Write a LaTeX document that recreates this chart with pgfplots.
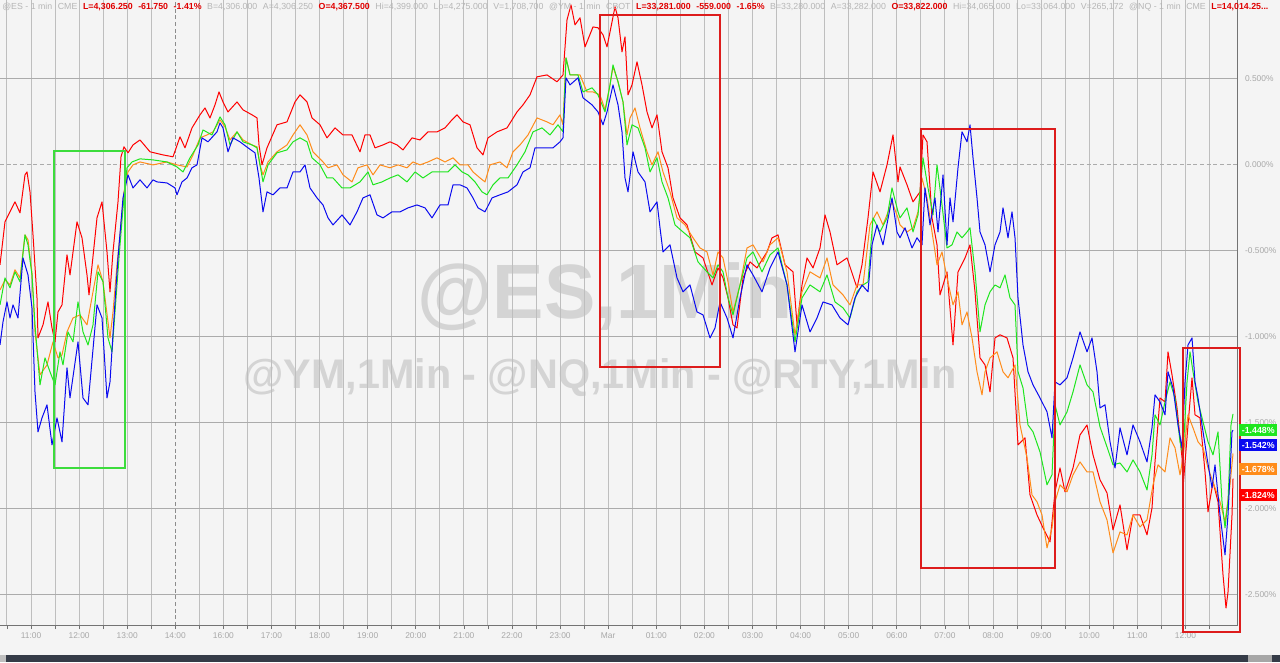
\documentclass[border=0pt]{standalone}
\usepackage{fontspec}
\setmainfont{Liberation Sans}
\usepackage{pgfplots}
\pgfplotsset{compat=1.18}
\definecolor{bg}{HTML}{F4F4F4}
\definecolor{gridv}{HTML}{BEBEBE}
\definecolor{gridh}{HTML}{ABABAB}
\definecolor{lblgray}{HTML}{A8A8A8}
\definecolor{hdrgray}{HTML}{B6B6B6}
\definecolor{hdrred}{HTML}{E00000}
\definecolor{wm}{HTML}{D4D4D4}
\definecolor{sred}{HTML}{FF0000}
\definecolor{sorange}{HTML}{FF8C1A}
\definecolor{sgreen}{HTML}{1EE61E}
\definecolor{sblue}{HTML}{0A0AF0}
\definecolor{boxgreen}{HTML}{3CDC3C}
\definecolor{boxred}{HTML}{DD1C1C}
\definecolor{bar}{HTML}{353B47}
\newcommand\hg[1]{\textcolor{hdrgray}{#1}\hspace{4.2pt}}
\newcommand\hr[1]{\textcolor{hdrred}{\bfseries #1}\hspace{4.2pt}}
\begin{document}
\begin{tikzpicture}[x=0.75pt,y=0.75pt]
\useasboundingbox (0,0) rectangle (1280,662);
\fill[bg] (0,0) rectangle (1280,662);
\fill[bar] (0,0) rectangle (1280,7);
\fill[black!25] (0,0) rectangle (6,7);
\fill[black!35] (1248,0) rectangle (1272,7);
\node[text=wm,font=\fontsize{57.8}{60}\selectfont\bfseries] at (605,365) {@ES,1Min};
\node[text=wm,font=\fontsize{31}{33}\selectfont\bfseries] at (600,284) {@YM,1Min - @NQ,1Min - @RTY,1Min};
\begin{axis}[
 at={(0,21)}, anchor=south west,
 scale only axis, width=927.75pt, height=471.75pt,
 xmin=0, xmax=1237, ymin=-2.6802, ymax=0.9767,
 axis line style={draw=none},
 clip=false,
 xtick={31,79.1,127.2,223.4,271.5,319.6,367.7,415.8,463.9,512,560.1,608.2,656.3,704.4,752.5,800.6,848.7,896.8,944.9,993,1041.1,1089.2,1137.3,1185.4},
 xticklabels={11:00,12:00,13:00,16:00,17:00,18:00,19:00,20:00,21:00,22:00,23:00,Mar,01:00,02:00,03:00,04:00,05:00,06:00,07:00,08:00,09:00,10:00,11:00,12:00},
 minor xtick={6.95,55.05,103.15,151.25,199.35,247.45,295.55,343.65,391.75,439.85,487.95,536.05,584.15,632.25,680.35,728.45,776.55,824.65,872.75,920.85,968.95,1017.05,1065.15,1113.25,1161.35,1209.45},
 extra x ticks={175.3}, extra x tick labels={14:00},
 extra x tick style={major grid style={draw=black!45, dash pattern=on 3pt off 2pt, line width=0.7pt}},
 ytick={-2.5,-2,-1.5,-1,-0.5,0.5},
 yticklabels={-2.500\%,-2.000\%,-1.500\%,-1.000\%,-0.500\%,0.500\%},
 extra y ticks={0}, extra y tick labels={0.000\%},
 extra y tick style={major grid style={draw=black!50, dash pattern=on 3pt off 2pt, line width=0.7pt}},
 xmajorgrids, xminorgrids, ymajorgrids,
 major grid style={draw=gridv, line width=0.75pt},
 minor grid style={draw=gridv, line width=0.75pt},
 y grid style={draw=gridh, line width=0.75pt},
 xtick pos=bottom, ytick pos=right,
 tick align=outside,
 major tick length=2.5pt, minor tick length=2.5pt,
 xtick style={draw=black!55, line width=0.6pt},
 ytick style={draw=none},
 xticklabel style={font=\fontsize{6.3}{7}\selectfont, text=lblgray, yshift=1pt},
 yticklabel style={font=\fontsize{6.3}{7}\selectfont, text=lblgray, xshift=0pt},
 every axis plot/.append style={line width=0.75pt, line join=round, mark=none},
]
\addplot[sred] coordinates {
(0,-0.581)(5,-0.331)(10,-0.273)(15,-0.215)(20,-0.279)(25,-0.058)(27,-0.041)(30,-0.157)(33,-0.407)(37,-0.773)(38,-1.006)(43,-0.930)(48,-0.797)(52,-0.948)(55,-1.029)(58,-0.855)(62,-0.814)(67,-0.523)(70,-0.640)(77,-0.331)(82,-0.424)(87,-0.640)(89,-0.756)(97,-0.308)(102,-0.215)(107,-0.506)(110,-0.738)(113,-0.506)(118,-0.215)(121,0.047)(124,0.105)(128,0.070)(133,0.116)(140,0.145)(150,0.076)(163,0.058)(173,0.047)(180,0.163)(185,0.099)(192,0.215)(200,0.291)(205,0.331)(210,0.273)(215,0.349)(219,0.424)(223,0.366)(228,0.308)(237,0.366)(243,0.320)(252,0.291)(257,0.273)(259,0.116)(262,0.000)(267,0.099)(277,0.233)(287,0.250)(295,0.366)(300,0.407)(307,0.366)(312,0.273)(320,0.233)(327,0.157)(335,0.215)(343,0.174)(352,0.174)(360,0.076)(365,0.174)(370,0.174)(375,0.099)(383,0.116)(390,0.134)(397,0.116)(403,0.087)(412,0.157)(420,0.145)(428,0.192)(437,0.192)(445,0.215)(452,0.262)(457,0.291)(463,0.250)(470,0.233)(477,0.099)(483,0.058)(488,0.157)(497,0.192)(507,0.215)(517,0.308)(523,0.349)(530,0.407)(537,0.512)(547,0.523)(557,0.483)(563,0.523)(567,0.843)(571,0.930)(575,0.814)(580,0.855)(585,0.686)(593,0.802)(598,0.797)(603,0.756)(607,0.686)(612,0.831)(615,0.919)(618,0.855)(622,0.657)(625,0.744)(628,0.407)(632,0.465)(637,0.599)(642,0.465)(647,0.308)(652,0.215)(657,0.291)(662,0.076)(668,-0.017)(673,-0.192)(680,-0.308)(687,-0.349)(695,-0.506)(703,-0.541)(712,-0.698)(718,-0.599)(723,-0.657)(728,-0.773)(733,-0.930)(737,-0.948)(743,-0.657)(750,-0.564)(757,-0.599)(767,-0.506)(772,-0.424)(778,-0.407)(785,-0.581)(793,-0.622)(797,-0.930)(802,-0.698)(807,-0.541)(813,-0.599)(820,-0.483)(825,-0.291)(830,-0.390)(837,-0.581)(847,-0.541)(857,-0.715)(862,-0.581)(868,-0.308)(873,-0.041)(880,-0.157)(887,0.000)(893,0.174)(898,-0.099)(900,-0.012)(907,-0.116)(913,-0.215)(920,-0.157)(923,0.174)(927,0.134)(932,-0.308)(937,-0.465)(940,-0.756)(947,-0.622)(953,-1.047)(958,-0.622)(965,-0.541)(970,-0.465)(975,-0.738)(980,-1.122)(985,-1.163)(990,-1.320)(995,-1.006)(1000,-0.988)(1007,-1.006)(1013,-1.122)(1018,-1.628)(1025,-1.587)(1030,-1.919)(1037,-2.035)(1043,-2.110)(1050,-2.192)(1055,-1.901)(1060,-1.762)(1065,-1.901)(1073,-1.762)(1080,-1.570)(1087,-1.512)(1093,-1.686)(1100,-1.831)(1107,-1.907)(1113,-2.122)(1120,-1.977)(1127,-2.238)(1133,-2.035)(1140,-2.035)(1147,-2.151)(1152,-1.994)(1155,-1.727)(1160,-1.355)(1165,-1.378)(1168,-1.087)(1172,-1.221)(1177,-1.413)(1182,-1.703)(1183,-1.878)(1188,-1.512)(1192,-1.238)(1195,-1.453)(1200,-1.471)(1205,-1.785)(1208,-2.017)(1213,-1.843)(1218,-1.959)(1223,-2.384)(1226,-2.576)(1228,-2.483)(1232,-2.035)(1233,-1.824)
};
\addplot[sorange] coordinates {
(0,-0.727)(5,-0.669)(10,-0.698)(15,-0.610)(20,-0.657)(25,-0.407)(28,-0.436)(32,-0.628)(35,-0.971)(40,-1.221)(47,-1.163)(53,-1.029)(58,-1.122)(62,-1.105)(67,-0.971)(73,-0.890)(80,-0.872)(87,-0.930)(93,-0.738)(98,-0.581)(103,-0.680)(110,-1.006)(113,-0.855)(117,-0.581)(120,-0.407)(124,-0.157)(128,-0.041)(133,0.000)(140,0.017)(153,0.000)(167,0.017)(177,0.000)(187,-0.012)(193,0.058)(200,0.157)(207,0.174)(213,0.192)(220,0.262)(225,0.221)(230,0.145)(237,0.192)(243,0.145)(252,0.116)(257,0.105)(260,0.000)(263,-0.058)(268,0.017)(277,0.076)(287,0.116)(293,0.174)(300,0.233)(307,0.174)(313,0.076)(323,0.017)(328,-0.017)(337,0.000)(343,-0.058)(352,-0.099)(358,-0.017)(367,0.000)(373,-0.058)(380,0.000)(390,-0.017)(398,0.000)(407,-0.017)(413,0.017)(420,0.000)(428,0.017)(437,0.041)(445,0.017)(453,0.041)(460,0.000)(468,0.000)(473,-0.041)(480,-0.076)(485,-0.099)(490,0.000)(500,0.017)(507,-0.017)(513,0.076)(520,0.116)(528,0.174)(537,0.273)(547,0.250)(553,0.233)(560,0.291)(563,0.233)(566,0.622)(570,0.523)(580,0.523)(587,0.424)(593,0.424)(600,0.407)(605,0.320)(610,0.465)(613,0.570)(618,0.483)(623,0.366)(627,0.174)(630,0.273)(635,0.331)(640,0.215)(647,0.076)(652,0.000)(658,0.076)(663,-0.041)(670,-0.157)(677,-0.308)(685,-0.349)(693,-0.424)(700,-0.483)(707,-0.506)(713,-0.640)(718,-0.506)(723,-0.541)(728,-0.680)(733,-0.855)(740,-0.698)(747,-0.483)(753,-0.465)(763,-0.564)(770,-0.465)(778,-0.424)(787,-0.622)(795,-0.988)(802,-0.738)(810,-0.622)(820,-0.657)(827,-0.541)(833,-0.698)(843,-0.756)(850,-0.814)(857,-0.698)(863,-0.698)(870,-0.349)(877,-0.273)(883,-0.349)(892,-0.215)(898,-0.308)(900,-0.349)(907,-0.390)(913,-0.366)(918,-0.273)(922,-0.076)(927,-0.192)(932,-0.390)(937,-0.581)(942,-0.506)(947,-0.657)(953,-0.814)(958,-0.738)(962,-0.930)(967,-0.855)(972,-1.006)(977,-1.203)(982,-1.337)(985,-1.203)(990,-1.122)(997,-1.087)(1003,-1.203)(1008,-1.238)(1015,-1.163)(1020,-1.512)(1027,-1.703)(1032,-1.919)(1037,-1.959)(1042,-2.035)(1047,-2.227)(1052,-2.110)(1055,-1.959)(1060,-1.860)(1067,-1.901)(1073,-1.802)(1080,-1.727)(1087,-1.785)(1093,-1.785)(1100,-1.959)(1107,-2.064)(1113,-2.256)(1120,-2.134)(1127,-2.151)(1133,-2.035)(1140,-2.105)(1147,-2.064)(1153,-1.860)(1158,-1.744)(1165,-1.785)(1170,-1.587)(1175,-1.645)(1180,-1.802)(1183,-1.703)(1188,-1.453)(1193,-1.529)(1198,-1.610)(1203,-1.645)(1208,-1.762)(1215,-1.878)(1220,-1.959)(1225,-2.076)(1230,-1.860)(1233,-1.678)
};
\addplot[sgreen] coordinates {
(0,-0.814)(5,-0.657)(10,-0.715)(15,-0.622)(20,-0.680)(25,-0.407)(28,-0.465)(32,-0.640)(35,-0.930)(40,-1.279)(45,-1.122)(50,-1.203)(55,-1.279)(60,-1.087)(63,-1.163)(68,-0.971)(73,-1.029)(78,-0.797)(83,-0.971)(88,-1.047)(93,-0.930)(98,-0.622)(103,-0.680)(108,-1.006)(112,-1.087)(115,-0.855)(119,-0.541)(123,-0.250)(127,-0.017)(132,0.017)(140,0.035)(153,0.029)(167,0.017)(177,-0.012)(183,-0.041)(190,0.041)(198,0.116)(203,0.203)(212,0.174)(220,0.279)(225,0.233)(230,0.116)(237,0.192)(243,0.134)(252,0.116)(257,0.099)(260,0.000)(263,-0.099)(268,0.000)(277,0.070)(287,0.087)(293,0.134)(300,0.157)(307,0.134)(312,0.041)(320,0.000)(327,-0.076)(333,-0.076)(342,-0.134)(350,-0.134)(360,-0.099)(368,-0.041)(373,-0.116)(382,-0.099)(390,-0.076)(398,-0.058)(407,-0.099)(415,-0.041)(423,-0.076)(432,-0.041)(440,-0.041)(448,-0.041)(455,0.000)(462,-0.041)(468,-0.058)(475,-0.099)(482,-0.157)(487,-0.174)(493,-0.116)(500,-0.076)(508,-0.076)(517,0.000)(525,0.076)(533,0.192)(542,0.215)(550,0.174)(558,0.233)(563,0.192)(566,0.622)(570,0.523)(578,0.523)(583,0.424)(592,0.448)(598,0.407)(605,0.308)(610,0.465)(613,0.581)(618,0.483)(623,0.366)(627,0.116)(632,0.233)(638,0.215)(645,0.099)(650,-0.041)(657,0.041)(662,-0.099)(668,-0.192)(675,-0.349)(683,-0.390)(690,-0.424)(698,-0.564)(707,-0.622)(713,-0.657)(718,-0.581)(723,-0.622)(728,-0.773)(733,-0.872)(740,-0.698)(747,-0.541)(753,-0.506)(762,-0.622)(770,-0.523)(778,-0.483)(787,-0.698)(795,-1.029)(802,-0.773)(810,-0.698)(820,-0.738)(827,-0.640)(835,-0.797)(843,-0.831)(850,-0.890)(857,-0.738)(863,-0.698)(868,-0.680)(873,-0.308)(880,-0.390)(887,-0.308)(892,-0.134)(898,-0.273)(900,-0.308)(907,-0.250)(913,-0.390)(918,-0.291)(923,0.041)(928,-0.134)(933,-0.291)(937,0.000)(942,-0.233)(947,-0.483)(952,-0.465)(957,-0.390)(962,-0.424)(967,-0.390)(970,-0.366)(975,-0.622)(980,-0.971)(985,-0.814)(990,-0.738)(995,-0.698)(1000,-0.715)(1005,-0.640)(1010,-0.773)(1015,-0.814)(1018,-1.203)(1023,-1.297)(1028,-1.512)(1033,-1.552)(1040,-1.669)(1047,-1.860)(1052,-1.802)(1055,-1.395)(1060,-1.512)(1067,-1.436)(1073,-1.320)(1080,-1.163)(1087,-1.279)(1093,-1.320)(1100,-1.523)(1107,-1.640)(1113,-1.744)(1120,-1.733)(1127,-1.785)(1133,-1.715)(1140,-1.785)(1147,-1.890)(1152,-1.686)(1155,-1.453)(1160,-1.512)(1165,-1.378)(1170,-1.262)(1175,-1.355)(1180,-1.610)(1183,-1.686)(1187,-1.262)(1190,-1.087)(1193,-1.203)(1198,-1.378)(1203,-1.494)(1208,-1.610)(1213,-1.686)(1218,-1.552)(1222,-1.959)(1225,-2.110)(1228,-1.959)(1231,-1.512)(1233,-1.448)
};
\addplot[sblue] coordinates {
(0,-1.047)(3,-0.913)(7,-0.797)(10,-0.890)(13,-0.814)(18,-0.890)(23,-0.541)(28,-0.640)(32,-0.831)(35,-1.320)(38,-1.552)(42,-1.471)(47,-1.395)(52,-1.628)(57,-1.471)(62,-1.610)(67,-1.180)(70,-1.355)(78,-1.029)(83,-1.355)(88,-1.395)(97,-0.814)(102,-0.890)(107,-1.355)(110,-1.262)(115,-0.797)(118,-0.541)(123,-0.192)(128,-0.058)(133,-0.134)(140,-0.087)(147,-0.134)(153,-0.087)(157,-0.099)(167,-0.105)(175,-0.134)(177,-0.174)(182,-0.099)(187,-0.076)(192,-0.017)(197,0.000)(202,0.157)(208,0.134)(217,0.192)(220,0.244)(223,0.215)(228,0.076)(233,0.157)(240,0.134)(248,0.099)(255,0.070)(259,-0.076)(263,-0.273)(267,-0.157)(273,-0.174)(280,-0.134)(287,-0.134)(293,-0.041)(300,-0.041)(305,0.000)(310,-0.134)(317,-0.192)(323,-0.233)(328,-0.308)(333,-0.349)(342,-0.291)(350,-0.349)(357,-0.273)(363,-0.192)(370,-0.174)(377,-0.291)(383,-0.308)(392,-0.273)(400,-0.273)(408,-0.250)(417,-0.233)(425,-0.250)(432,-0.308)(440,-0.233)(448,-0.233)(453,-0.116)(460,-0.116)(467,-0.134)(473,-0.192)(478,-0.250)(485,-0.273)(492,-0.192)(500,-0.174)(508,-0.157)(517,-0.116)(523,-0.041)(530,-0.017)(535,0.099)(543,0.099)(553,0.099)(560,0.134)(563,0.157)(566,0.506)(570,0.465)(578,0.506)(583,0.390)(592,0.349)(598,0.308)(603,0.233)(607,0.308)(613,0.465)(618,0.349)(622,0.192)(625,-0.076)(628,-0.157)(633,0.076)(638,-0.041)(645,-0.099)(650,-0.273)(657,-0.215)(660,-0.366)(663,-0.506)(670,-0.465)(677,-0.657)(683,-0.738)(690,-0.698)(697,-0.855)(703,-0.872)(710,-1.006)(715,-0.948)(720,-0.797)(727,-0.890)(733,-1.006)(740,-0.773)(747,-0.581)(753,-0.640)(762,-0.738)(770,-0.599)(778,-0.506)(787,-0.698)(795,-1.087)(802,-0.814)(810,-0.971)(817,-0.890)(823,-0.797)(832,-0.814)(840,-0.890)(848,-0.930)(855,-0.773)(862,-0.698)(868,-0.738)(872,-0.465)(877,-0.349)(883,-0.465)(892,-0.192)(897,-0.390)(900,-0.424)(905,-0.366)(912,-0.483)(917,-0.424)(922,-0.465)(925,-0.134)(930,-0.349)(935,-0.192)(938,-0.390)(943,-0.058)(947,-0.465)(950,-0.192)(953,-0.331)(958,-0.017)(962,0.192)(967,0.134)(970,0.233)(973,0.041)(977,-0.192)(980,-0.390)(985,-0.465)(990,-0.622)(995,-0.465)(1000,-0.390)(1003,-0.250)(1008,-0.424)(1012,-0.273)(1015,-0.424)(1018,-0.773)(1023,-1.047)(1028,-1.203)(1033,-1.279)(1040,-1.355)(1047,-1.436)(1052,-1.587)(1055,-1.262)(1060,-1.279)(1067,-1.238)(1073,-1.122)(1080,-0.971)(1087,-1.087)(1092,-1.006)(1097,-1.203)(1100,-1.413)(1105,-1.395)(1110,-1.610)(1115,-1.762)(1120,-1.529)(1127,-1.686)(1133,-1.512)(1140,-1.610)(1147,-1.727)(1152,-1.529)(1155,-1.337)(1160,-1.378)(1165,-1.453)(1168,-1.203)(1173,-1.297)(1178,-1.512)(1182,-1.645)(1185,-1.262)(1188,-1.047)(1192,-1.006)(1195,-1.262)(1198,-1.355)(1202,-1.512)(1207,-1.703)(1212,-1.878)(1215,-1.744)(1220,-2.035)(1225,-2.267)(1228,-2.035)(1232,-1.552)(1233,-1.542)
};
\draw[draw=black!55, line width=0.7pt] (rel axis cs:0,0) -- (rel axis cs:1,0) -- (rel axis cs:1,1);
\end{axis}
\draw[boxgreen, line width=2.2pt] (54,511) rectangle (125,194);
\draw[boxred, line width=2.2pt] (600,647) rectangle (720,295);
\draw[boxred, line width=2.2pt] (921,533) rectangle (1055,94);
\draw[boxred, line width=2.2pt] (1183,314) rectangle (1240,30);
\tikzset{vb/.style={anchor=west, text=white, font=\fontsize{6.6}{7}\selectfont\bfseries, inner xsep=1.2pt, inner ysep=0pt, minimum height=9pt, minimum width=28.5pt}}
\node[vb, fill=sgreen] at (1239,232) {-1.448\%};
\node[vb, fill=sblue] at (1239,217) {-1.542\%};
\node[vb, fill=sorange] at (1239,193) {-1.678\%};
\node[vb, fill=sred] at (1239,167) {-1.824\%};
\node[anchor=base west, inner sep=0, font=\fontsize{6.6}{7}\selectfont] at (2,652) {\hg{@ES - 1 min}\hg{CME}\hr{L=4,306.250}\hr{-61.750}\hr{-1.41\%}\hg{B=4,306.000}\hg{A=4,306.250}\hr{O=4,367.500}\hg{Hi=4,399.000}\hg{Lo=4,275.000}\hg{V=1,708,700}\hg{@YM - 1 min}\hg{CBOT}\hr{L=33,281.000}\hr{-559.000}\hr{-1.65\%}\hg{B=33,280.000}\hg{A=33,282.000}\hr{O=33,822.000}\hg{Hi=34,065.000}\hg{Lo=33,064.000}\hg{V=265,172}\hg{@NQ - 1 min}\hg{CME}\hr{L=14,014.25...}};
\end{tikzpicture}
\end{document}
